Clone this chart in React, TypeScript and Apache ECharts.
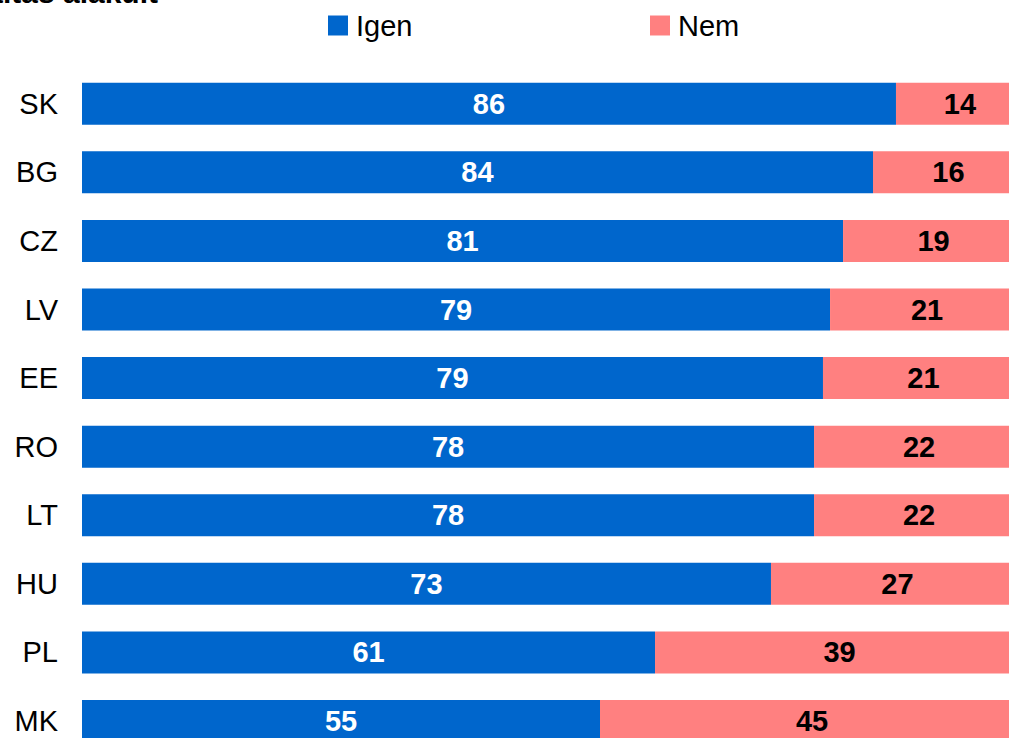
import React, { useEffect, useRef } from "react";
import * as echarts from "echarts";

const categories = ["SK", "BG", "CZ", "LV", "EE", "RO", "LT", "HU", "PL", "MK"];
const igenValues = [86.41, 83.97, 80.79, 79.41, 78.66, 77.71, 77.71, 73.14, 60.83, 54.99];
const nemValues = [13.59, 16.03, 19.21, 20.59, 21.34, 22.29, 22.29, 26.86, 39.17, 45.01];
const seriesNames = ["Igen", "Nem"];
const titleText = "Jónak tartja, ahogy a rendszerváltás alakult";

const FONT = "'Liberation Sans Narrow', 'Arial Narrow', 'Liberation Sans', Arial, sans-serif";
const FS = 29;

export default function App() {
  const ref = useRef<HTMLDivElement>(null);
  useEffect(() => {
    if (!ref.current) return;
    const chart = echarts.init(ref.current, undefined, { renderer: "svg" });
    chart.setOption({
      animation: false,
      textStyle: { fontFamily: FONT },
      graphic: [
        {
          type: "text",
          x: 158,
          y: -23,
          style: {
            text: titleText,
            font: "bold 30px " + FONT,
            fill: "#000",
            align: "right",
          },
        },
      ],
      legend: [
        {
          data: [seriesNames[0]],
          left: 323,
          top: 6,
          itemWidth: 20,
          itemHeight: 20,
          icon: "rect",
          textStyle: { fontSize: FS, color: "#000", fontFamily: FONT, padding: [0, 0, 0, 3] },
        },
        {
          data: [seriesNames[1]],
          left: 645,
          top: 6,
          itemWidth: 20,
          itemHeight: 20,
          icon: "rect",
          textStyle: { fontSize: FS, color: "#000", fontFamily: FONT, padding: [0, 0, 0, 3] },
        },
      ],
      grid: { left: 82, top: 69.5, width: 942, height: 685.8, containLabel: false },
      xAxis: {
        type: "value",
        min: 0,
        max: 100,
        show: false,
      },
      yAxis: {
        type: "category",
        data: categories,
        inverse: true,
        axisLine: { show: false },
        axisTick: { show: false },
        axisLabel: { fontSize: FS, color: "#000", margin: 24, fontFamily: FONT },
      },
      series: [
        {
          name: seriesNames[0],
          type: "bar",
          stack: "t",
          data: igenValues,
          barWidth: 42,
          itemStyle: { color: "#0066cc" },
          label: {
            show: true,
            position: "inside",
            color: "#fff",
            fontWeight: "bold",
            fontSize: FS,
            fontFamily: FONT,
            formatter: (p: any) => String(Math.round(p.value)),
          },
        },
        {
          name: seriesNames[1],
          type: "bar",
          stack: "t",
          data: nemValues,
          barWidth: 42,
          itemStyle: { color: "#ff8080" },
          label: {
            show: true,
            position: "inside",
            color: "#000",
            fontWeight: "bold",
            fontSize: FS,
            fontFamily: FONT,
            formatter: (p: any) => String(Math.round(p.value)),
          },
        },
      ],
    });
    return () => chart.dispose();
  }, []);
  return (
    <div
      style={{
        position: "fixed",
        left: 0,
        top: 0,
        width: 1009,
        height: 738,
        overflow: "hidden",
        background: "#fff",
      }}
    >
      <div ref={ref} style={{ position: "absolute", left: 0, top: 0, width: 1040, height: 800 }} />
    </div>
  );
}
